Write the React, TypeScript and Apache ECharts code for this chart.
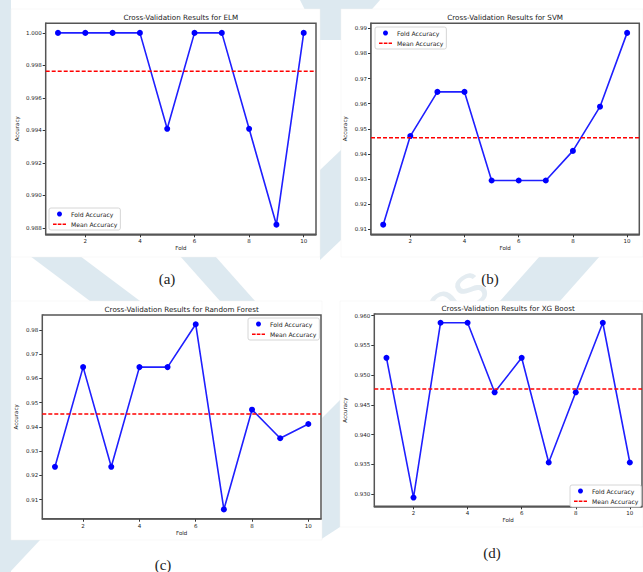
import React, { useEffect, useRef } from "react";
import * as echarts from "echarts";

const folds = [1, 2, 3, 4, 5, 6, 7, 8, 9, 10];
const elmAcc = [1.0, 1.0, 1.0, 1.0, 0.9941, 1.0, 1.0, 0.9941, 0.9882, 1.0];
const svmAcc = [0.9118, 0.9471, 0.9647, 0.9647, 0.9294, 0.9294, 0.9294, 0.9412, 0.9588, 0.9882];
const rfAcc = [0.9235, 0.9647, 0.9235, 0.9647, 0.9647, 0.9824, 0.9059, 0.9471, 0.9353, 0.9412];
const xgbAcc = [0.9529, 0.9294, 0.9588, 0.9588, 0.9471, 0.9529, 0.9353, 0.9471, 0.9588, 0.9353];

const xTicks = [2, 4, 6, 8, 10];
const elmTicks = [0.988, 0.99, 0.992, 0.994, 0.996, 0.998, 1.0];
const svmTicks = [0.91, 0.92, 0.93, 0.94, 0.95, 0.96, 0.97, 0.98, 0.99];
const rfTicks = [0.91, 0.92, 0.93, 0.94, 0.95, 0.96, 0.97, 0.98];
const xgbTicks = [0.93, 0.935, 0.94, 0.945, 0.95, 0.955, 0.96];

const titles = [
  "Cross-Validation Results for ELM",
  "Cross-Validation Results for SVM",
  "Cross-Validation Results for Random Forest",
  "Cross-Validation Results for XG Boost",
];
const captions = ["(a)", "(b)", "(c)", "(d)"];
const legendNames = ["Fold Accuracy", "Mean Accuracy"];

const panels = [
  { acc: elmAcc, ticks: elmTicks, dec: 3, grid: { left: 45.7, top: 23.3, right: 316, bottom: 234.3 }, yGap: 26, legend: { left: 49, top: 208 }, cap: [167, 279], white: [11, 9, 309, 248] },
  { acc: svmAcc, ticks: svmTicks, dec: 2, grid: { left: 371, top: 23.3, right: 639.3, bottom: 234.3 }, yGap: 23, legend: { left: 375, top: 27 }, cap: [490, 279], white: [341, 9, 302, 248] },
  { acc: rfAcc, ticks: rfTicks, dec: 2, grid: { left: 42.3, top: 315, right: 321, bottom: 518.7 }, yGap: 23, legend: { left: 248, top: 318 }, cap: [163, 565], white: [11, 301, 311, 239] },
  { acc: xgbAcc, ticks: xgbTicks, dec: 3, grid: { left: 374.3, top: 314, right: 642, bottom: 506.3 }, yGap: 26, legend: { left: 570, top: 485 }, cap: [492, 553], white: [340, 301, 303, 226] },
];

const FONT = "DejaVu Sans";
const XMIN = 0.55;
const XMAX = 10.45;
const FS = 5.5;
const DASH_ICON =
  "path://M0,2h3.6v1.4h-3.6z M4.8,2h3.6v1.4h-3.6z M9.6,2h3.4v1.4h-3.4z M0,0h0.01v0.01h-0.01z M12.99,4.99h0.01v0.01h-0.01z";

export default function App() {
  const ref = useRef<HTMLDivElement>(null);
  useEffect(() => {
    document.body.style.margin = "0";
    const chart = echarts.init(ref.current!, null, { renderer: "svg" });
    const grids: any[] = [];
    const xAxes: any[] = [];
    const yAxes: any[] = [];
    const series: any[] = [];
    const legends: any[] = [];
    const graphics: any[] = [];

    // watermark background
    const wm = "#dde9f0";
    graphics.push(
      { type: "rect", z: -20, shape: { x: 0, y: 0, width: 643, height: 572 }, style: { fill: "#ffffff" } },
      { type: "polygon", z: -19, shape: { points: [[0, 0], [11, 0], [11, 572], [0, 572]] }, style: { fill: wm } },
      { type: "polygon", z: -19, shape: { points: [[30, 256], [80, 256], [140, 301], [90, 301]] }, style: { fill: wm } },
      { type: "polygon", z: -19, shape: { points: [[180, 256], [215, 256], [255, 301], [220, 301]] }, style: { fill: wm } },
      { type: "polygon", z: -19, shape: { points: [[300, 0], [380, 0], [345, 40], [320, 40]] }, style: { fill: wm } },
      { type: "polygon", z: -19, shape: { points: [[320, 170], [341, 150], [341, 240], [320, 260]] }, style: { fill: wm } },
      { type: "polygon", z: -19, shape: { points: [[540, 256], [600, 256], [560, 301], [500, 301]] }, style: { fill: wm } },
      { type: "polygon", z: -19, shape: { points: [[0, 540], [40, 540], [10, 572], [0, 572]] }, style: { fill: wm } },
      { type: "polygon", z: -19, shape: { points: [[320, 420], [340, 400], [340, 527], [320, 540]] }, style: { fill: wm } },
      { type: "text", z: -19, x: 395, y: 300, rotation: 0.6, style: { text: "res", fill: "#e4ecf1", font: "60px 'Liberation Sans'" } }
    );

    panels.forEach((p, i) => {
      const g = p.grid;
      const dmin = Math.min(...p.acc);
      const dmax = Math.max(...p.acc);
      const r = dmax - dmin;
      const mean = p.acc.reduce((a, b) => a + b, 0) / p.acc.length;
      grids.push({
        left: g.left,
        top: g.top,
        width: g.right - g.left,
        height: g.bottom - g.top,
        show: true,
        backgroundColor: "#ffffff",
        borderColor: "#555555",
        borderWidth: 1.5,
        z: 1,
      });
      xAxes.push({
        type: "value",
        gridIndex: i,
        min: XMIN,
        max: XMAX,
        name: "Fold",
        nameLocation: "middle",
        nameGap: 11,
        nameTextStyle: { fontFamily: FONT, fontSize: FS, color: "#222" },
        axisLine: { show: true, lineStyle: { color: "#555555", width: 1.5 } },
        axisTick: { show: true, length: 3, customValues: xTicks, lineStyle: { color: "#333" } },
        axisLabel: { show: true, customValues: xTicks, margin: 4, fontFamily: FONT, fontSize: FS, color: "#222" },
        splitLine: { show: false },
      });
      yAxes.push({
        type: "value",
        gridIndex: i,
        min: dmin - 0.05 * r,
        max: dmax + 0.05 * r,
        name: "Accuracy",
        nameLocation: "middle",
        nameGap: p.yGap,
        nameRotate: 90,
        nameTextStyle: { fontFamily: FONT, fontSize: FS, color: "#222" },
        axisLine: { show: true, lineStyle: { color: "#555555", width: 1.5 } },
        axisTick: { show: true, length: 3, customValues: p.ticks, lineStyle: { color: "#333" } },
        axisLabel: {
          show: true,
          customValues: p.ticks,
          margin: 4,
          fontFamily: FONT,
          fontSize: FS,
          color: "#222",
          formatter: (v: number) => v.toFixed(p.dec),
        },
        splitLine: { show: false },
      });
      series.push({
        type: "line",
        name: legendNames[0],
        xAxisIndex: i,
        yAxisIndex: i,
        data: folds.map((f, k) => [f, p.acc[k]]),
        symbol: "circle",
        symbolSize: 6,
        color: "#0000ff",
        lineStyle: { color: "#1f1fff", width: 1.6 },
        itemStyle: { color: "#0000ff" },
        z: 3,
      });
      series.push({
        type: "line",
        name: legendNames[1],
        xAxisIndex: i,
        yAxisIndex: i,
        data: [[XMIN, mean], [XMAX, mean]],
        symbol: "none",
        color: "#ff0000",
        lineStyle: { color: "#ff0000", width: 1.5, type: [4, 2] },
        z: 4,
      });
      legends.push({
        left: p.legend.left,
        top: p.legend.top,
        orient: "vertical",
        data: [
          { name: legendNames[0], icon: "circle" },
          { name: legendNames[1], icon: DASH_ICON, itemStyle: { color: "#ff0000" } },
        ],
        backgroundColor: "#ffffff",
        borderColor: "#cccccc",
        borderWidth: 0.8,
        borderRadius: 2,
        padding: [3, 3, 3, 4],
        itemGap: 4,
        itemWidth: 13,
        itemHeight: 5,
        selectedMode: false,
        textStyle: { fontFamily: FONT, fontSize: 6.1, color: "#222" },
        z: 10,
      });
      graphics.push({
        type: "rect",
        z: -5,
        shape: { x: p.white[0], y: p.white[1], width: p.white[2], height: p.white[3] },
        style: { fill: "#ffffff", stroke: "#f2f2f2", lineWidth: 0.5 },
      });
      graphics.push({
        type: "text",
        z: 10,
        x: (g.left + g.right) / 2,
        y: g.top - 5.5,
        style: {
          text: titles[i],
          fill: "#222",
          font: `7.2px '${FONT}'`,
          textAlign: "center",
          textVerticalAlign: "middle",
        },
      });
      graphics.push({
        type: "text",
        z: 10,
        x: p.cap[0],
        y: p.cap[1],
        style: {
          text: captions[i],
          fill: "#222",
          font: "15px 'Liberation Serif'",
          textAlign: "center",
          textVerticalAlign: "middle",
        },
      });
    });

    chart.setOption({
      animation: false,
      backgroundColor: "#ffffff",
      grid: grids,
      xAxis: xAxes,
      yAxis: yAxes,
      series,
      legend: legends,
      graphic: { elements: graphics },
    });
    return () => chart.dispose();
  }, []);
  return <div ref={ref} style={{ width: 643, height: 572 }} />;
}
